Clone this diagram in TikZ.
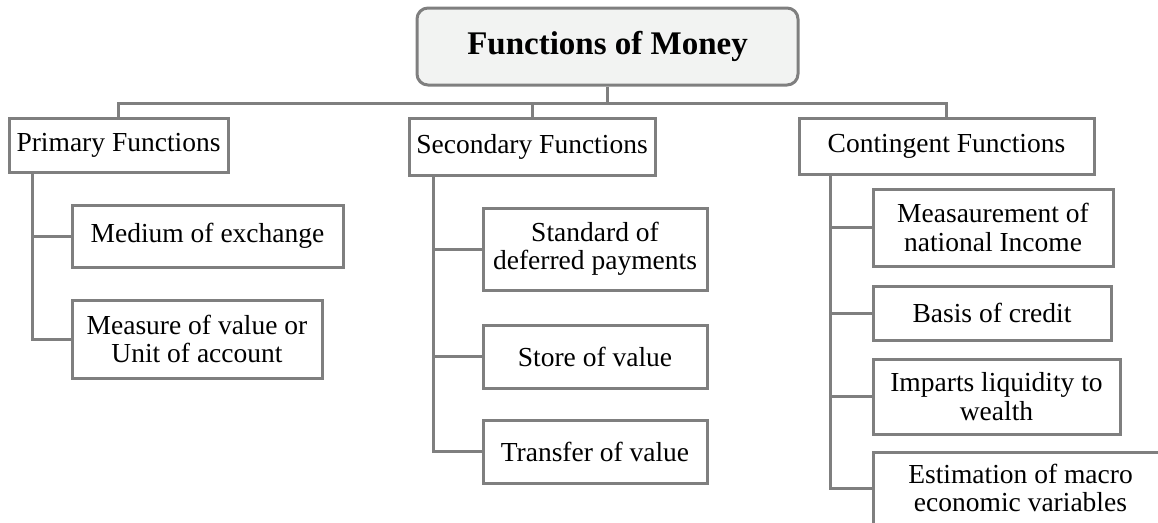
\documentclass[tikz,border=0pt]{standalone}
\usepackage{fontspec}
\setmainfont{Liberation Serif}
\begin{document}
\begin{tikzpicture}[x=1pt,y=-1pt,
  box/.style={draw=linegray, line width=3pt, fill=white, align=center, inner sep=0pt,
    font=\fontsize{27.5}{28.5}\selectfont},
  conn/.style={draw=linegray, line width=3pt},
  titlebox/.style={draw=linegray, line width=3pt, fill=titlefill, rounded corners=11pt,
    align=center, inner sep=0pt, font=\fontsize{33}{36}\selectfont\bfseries}]
\definecolor{linegray}{HTML}{7F7F7F}
\definecolor{titlefill}{HTML}{F2F3F2}
\useasboundingbox (0,0) rectangle (1158,522);
% title
\node[titlebox, minimum width=381pt, minimum height=77pt] (title) at (607.5,46.5) {Functions of Money};
% level 1
\node[box, minimum width=219pt, minimum height=54pt] (prim) at (118.5,145) {Primary Functions};
\node[box, minimum width=246pt, minimum height=57pt] (sec) at (532,146.5) {Secondary Functions};
\node[box, minimum width=295pt, minimum height=56pt] (cont) at (946.5,146) {Contingent Functions};
% primary children
\node[box, minimum width=271pt, minimum height=62pt] (med) at (207.5,236) {Medium of exchange};
\node[box, minimum width=250pt, minimum height=78pt] (meas) at (197,339) {Measure of value or\\Unit of account};
% secondary children
\node[box, minimum width=224pt, minimum height=82pt] (std) at (595,249) {Standard of\\deferred payments};
\node[box, minimum width=224pt, minimum height=63pt] (store) at (595,356.5) {Store of value};
\node[box, minimum width=224pt, minimum height=63pt] (trans) at (595,451.5) {Transfer of value};
% contingent children
\node[box, minimum width=240pt, minimum height=77pt] (msr) at (993,227.5) {Measaurement of\\national Income};
\node[box, minimum width=238pt, minimum height=54pt] (basis) at (992,313) {Basis of credit};
\node[box, minimum width=247pt, minimum height=75pt] (imp) at (996.5,396.5) {Imparts liquidity to\\wealth};
\node[box, minimum width=295pt, minimum height=72pt] (est) at (1020.5,488) {Estimation of macro\\economic variables};
% bus
\coordinate (bus) at (0,103);
\draw[conn] (title.south) -- (title.south |- bus);
\draw[conn] (prim.north) -- (prim.north |- bus) -- (cont.north |- bus) -- (cont.north);
\draw[conn] (sec.north) -- (sec.north |- bus);
% trunks
\coordinate (pt) at (32.5,0);
\coordinate (st) at (433,0);
\coordinate (ct) at (830,0);
\draw[conn] (prim.south -| pt) |- (meas.west);
\draw[conn] (med.west) -- (med.west -| pt);
\draw[conn] (sec.south -| st) |- (trans.west);
\draw[conn] (std.west) -- (std.west -| st);
\draw[conn] (store.west) -- (store.west -| st);
\draw[conn] (cont.south -| ct) |- (est.west);
\draw[conn] (msr.west) -- (msr.west -| ct);
\draw[conn] (basis.west) -- (basis.west -| ct);
\draw[conn] (imp.west) -- (imp.west -| ct);
\end{tikzpicture}
\end{document}
